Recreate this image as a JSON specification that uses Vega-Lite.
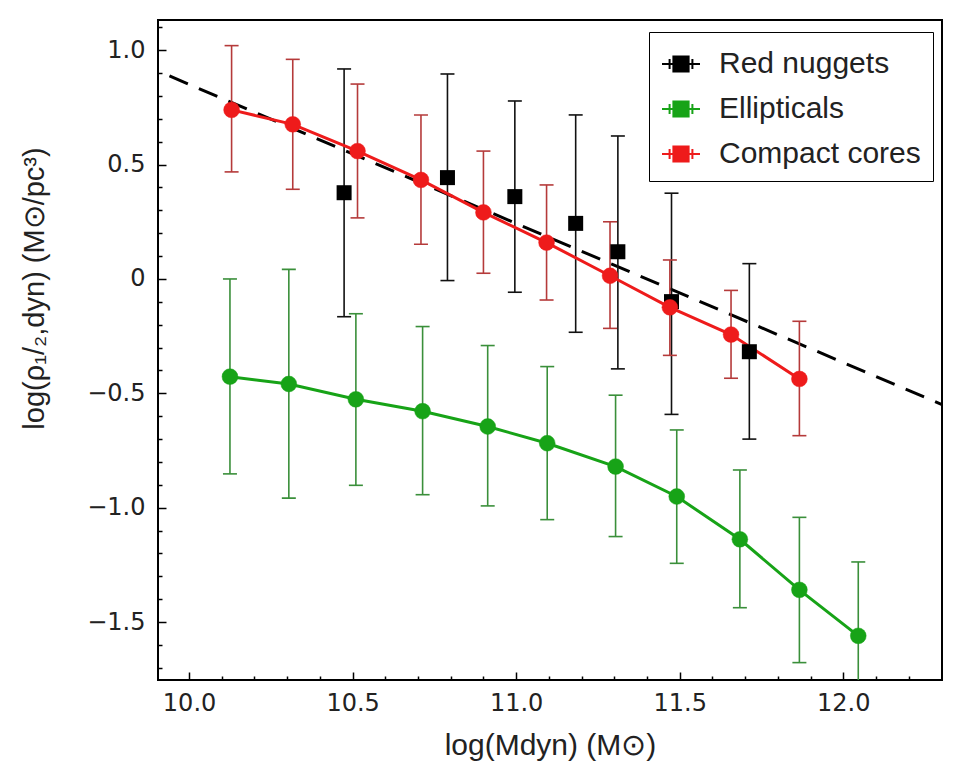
{
  "$schema": "https://vega.github.io/schema/vega-lite/v6.json",
  "width": 784,
  "height": 660,
  "autosize": {"type": "none"},
  "padding": {"left": 158, "top": 20, "right": 28, "bottom": 86},
  "background": "white",
  "config": {
    "view": {"stroke": "black", "strokeWidth": 2},
    "axis": {"domain": false, "grid": false}
  },
  "resolve": {"axis": {"x": "independent", "y": "independent"}},
  "datasets": {
    "pts": [
      {"s": "Red nuggets", "x": 10.474, "y": 0.377, "lo": -0.165, "hi": 0.918},
      {"s": "Red nuggets", "x": 10.79, "y": 0.443, "lo": -0.007, "hi": 0.896},
      {"s": "Red nuggets", "x": 10.996, "y": 0.36, "lo": -0.058, "hi": 0.778},
      {"s": "Red nuggets", "x": 11.182, "y": 0.243, "lo": -0.233, "hi": 0.717},
      {"s": "Red nuggets", "x": 11.311, "y": 0.119, "lo": -0.393, "hi": 0.625},
      {"s": "Red nuggets", "x": 11.475, "y": -0.099, "lo": -0.592, "hi": 0.375},
      {"s": "Red nuggets", "x": 11.713, "y": -0.318, "lo": -0.7, "hi": 0.067},
      {"s": "Ellipticals", "x": 10.125, "y": -0.427, "lo": -0.852, "hi": 0.0},
      {"s": "Ellipticals", "x": 10.305, "y": -0.459, "lo": -0.958, "hi": 0.042},
      {"s": "Ellipticals", "x": 10.51, "y": -0.526, "lo": -0.902, "hi": -0.152},
      {"s": "Ellipticals", "x": 10.714, "y": -0.578, "lo": -0.943, "hi": -0.208},
      {"s": "Ellipticals", "x": 10.913, "y": -0.645, "lo": -0.992, "hi": -0.291},
      {"s": "Ellipticals", "x": 11.095, "y": -0.718, "lo": -1.052, "hi": -0.383},
      {"s": "Ellipticals", "x": 11.304, "y": -0.82, "lo": -1.126, "hi": -0.508},
      {"s": "Ellipticals", "x": 11.491, "y": -0.951, "lo": -1.243, "hi": -0.66},
      {"s": "Ellipticals", "x": 11.684, "y": -1.138, "lo": -1.437, "hi": -0.835},
      {"s": "Ellipticals", "x": 11.866, "y": -1.359, "lo": -1.677, "hi": -1.042},
      {"s": "Ellipticals", "x": 12.046, "y": -1.56, "lo": -1.9, "hi": -1.237},
      {"s": "Compact cores", "x": 10.13, "y": 0.739, "lo": 0.468, "hi": 1.02},
      {"s": "Compact cores", "x": 10.317, "y": 0.676, "lo": 0.392, "hi": 0.96},
      {"s": "Compact cores", "x": 10.515, "y": 0.559, "lo": 0.267, "hi": 0.852},
      {"s": "Compact cores", "x": 10.709, "y": 0.433, "lo": 0.152, "hi": 0.717},
      {"s": "Compact cores", "x": 10.9, "y": 0.291, "lo": 0.025, "hi": 0.559},
      {"s": "Compact cores", "x": 11.093, "y": 0.159, "lo": -0.092, "hi": 0.411},
      {"s": "Compact cores", "x": 11.287, "y": 0.014, "lo": -0.216, "hi": 0.25},
      {"s": "Compact cores", "x": 11.47, "y": -0.124, "lo": -0.334, "hi": 0.083},
      {"s": "Compact cores", "x": 11.657, "y": -0.243, "lo": -0.434, "hi": -0.05},
      {"s": "Compact cores", "x": 11.866, "y": -0.437, "lo": -0.685, "hi": -0.185}
    ],
    "fit": [
      {"x": 9.85, "y": 0.942},
      {"x": 12.35, "y": -0.578}
    ]
  },
  "layer": [
    {
      "data": {"name": "fit"},
      "mark": {"type": "line", "color": "black", "strokeWidth": 3, "strokeDash": [20, 12], "clip": true},
      "encoding": {
        "x": {
          "field": "x", "type": "quantitative",
          "scale": {"domain": [9.905, 12.302], "nice": false, "zero": false},
          "axis": {
            "orient": "bottom",
            "title": "log(Mdyn) (M⊙)",
            "values": [10, 10.5, 11, 11.5, 12],
            "format": ".1f",
            "tickSize": -8,
            "tickColor": "black",
            "tickWidth": 1.5,
            "labelFont": "DejaVu Sans",
            "labelFontSize": 24,
            "labelColor": "#222222",
            "labelPadding": 19,
            "labelFlush": false,
            "labelOverlap": false,
            "titleFont": "Liberation Sans",
            "titleFontSize": 30,
            "titleFontWeight": "normal",
            "titleColor": "#222222",
            "titleBaseline": "middle",
            "titleY": 65
          }
        },
        "y": {
          "field": "y", "type": "quantitative",
          "scale": {"domain": [-1.753, 1.132], "nice": false, "zero": false},
          "axis": {
            "orient": "left",
            "title": "log(ρ₁/₂,dyn) (M⊙/pc³)",
            "values": [-1.5, -1, -0.5, 0, 0.5, 1],
            "labelExpr": "abs(datum.value) < 0.001 ? '0' : format(datum.value, '.1f')",
            "tickSize": -8,
            "tickColor": "black",
            "tickWidth": 1.5,
            "labelFont": "DejaVu Sans",
            "labelFontSize": 24,
            "labelColor": "#222222",
            "labelPadding": 21,
            "labelOverlap": false,
            "labelFlush": false,
            "titleFont": "Liberation Sans",
            "titleFontSize": 29,
            "titleFontWeight": "normal",
            "titleColor": "#222222",
            "titleAngle": -90,
            "titleAlign": "center",
            "titleBaseline": "middle",
            "titleX": -124,
            "titleY": 268
          }
        }
      }
    },
    {
      "data": {"name": "pts"},
      "mark": {"type": "rule", "strokeWidth": 1.6, "clip": true},
      "encoding": {
        "x": {
          "field": "x", "type": "quantitative",
          "scale": {"domain": [9.905, 12.302], "nice": false, "zero": false},
          "axis": {
            "orient": "bottom",
            "title": null,
            "labels": false,
            "values": [10.1, 10.2, 10.3, 10.4, 10.6, 10.7, 10.8, 10.9, 11.1, 11.2, 11.3, 11.4, 11.6, 11.7, 11.8, 11.9, 12.1, 12.2],
            "tickSize": -4,
            "tickColor": "black",
            "tickWidth": 1.5
          }
        },
        "y": {
          "field": "lo", "type": "quantitative",
          "scale": {"domain": [-1.753, 1.132], "nice": false, "zero": false},
          "axis": {
            "orient": "left",
            "title": null,
            "labels": false,
            "values": [-1.7, -1.6, -1.4, -1.3, -1.2, -1.1, -0.9, -0.8, -0.7, -0.6, -0.4, -0.3, -0.2, -0.1, 0.1, 0.2, 0.3, 0.4, 0.6, 0.7, 0.8, 0.9, 1.1],
            "tickSize": -4,
            "tickColor": "black",
            "tickWidth": 1.5
          }
        },
        "y2": {"field": "hi"},
        "color": {"field": "s", "type": "nominal", "scale": {"domain": ["Compact cores", "Ellipticals", "Red nuggets"], "range": ["#b53a3a", "#3a8f3a", "#111111"]}, "legend": null}
      }
    },
    {
      "data": {"name": "pts"},
      "mark": {"type": "tick", "orient": "horizontal", "size": 14, "thickness": 1.6, "clip": true, "opacity": 1},
      "encoding": {
        "x": {"field": "x", "type": "quantitative", "scale": {"domain": [9.905, 12.302], "nice": false, "zero": false}, "axis": null},
        "y": {"field": "lo", "type": "quantitative", "scale": {"domain": [-1.753, 1.132], "nice": false, "zero": false}, "axis": null},
        "color": {"field": "s", "type": "nominal", "scale": {"domain": ["Compact cores", "Ellipticals", "Red nuggets"], "range": ["#b53a3a", "#3a8f3a", "#111111"]}, "legend": null}
      }
    },
    {
      "data": {"name": "pts"},
      "mark": {"type": "tick", "orient": "horizontal", "size": 14, "thickness": 1.6, "clip": true, "opacity": 1},
      "encoding": {
        "x": {"field": "x", "type": "quantitative", "scale": {"domain": [9.905, 12.302], "nice": false, "zero": false}, "axis": null},
        "y": {"field": "hi", "type": "quantitative", "scale": {"domain": [-1.753, 1.132], "nice": false, "zero": false}, "axis": null},
        "color": {"field": "s", "type": "nominal", "scale": {"domain": ["Compact cores", "Ellipticals", "Red nuggets"], "range": ["#b53a3a", "#3a8f3a", "#111111"]}, "legend": null}
      }
    },
    {
      "data": {"name": "pts"},
      "transform": [{"filter": "datum.s != 'Red nuggets'"}],
      "mark": {"type": "line", "strokeWidth": 3, "clip": true},
      "encoding": {
        "x": {"field": "x", "type": "quantitative", "scale": {"domain": [9.905, 12.302], "nice": false, "zero": false}, "axis": null},
        "y": {"field": "y", "type": "quantitative", "scale": {"domain": [-1.753, 1.132], "nice": false, "zero": false}, "axis": null},
        "stroke": {"field": "s", "type": "nominal", "scale": {"domain": ["Red nuggets", "Ellipticals", "Compact cores"], "range": ["#000000", "#17a317", "#ee1b1b"]}}
      }
    },
    {
      "data": {"name": "pts"},
      "transform": [{"filter": "datum.s == 'Red nuggets'"}],
      "mark": {"type": "point", "shape": "square", "filled": true, "size": 225, "opacity": 1, "clip": true},
      "encoding": {
        "x": {"field": "x", "type": "quantitative", "scale": {"domain": [9.905, 12.302], "nice": false, "zero": false}, "axis": null},
        "y": {"field": "y", "type": "quantitative", "scale": {"domain": [-1.753, 1.132], "nice": false, "zero": false}, "axis": null},
        "fill": {"field": "s", "type": "nominal", "scale": {"domain": ["Red nuggets", "Ellipticals", "Compact cores"], "range": ["#000000", "#17a317", "#ee1b1b"]}}
      }
    },
    {
      "data": {"name": "pts"},
      "transform": [{"filter": "datum.s != 'Red nuggets'"}],
      "mark": {"type": "point", "shape": "circle", "filled": true, "size": 250, "opacity": 1, "strokeWidth": 0.5, "clip": true},
      "encoding": {
        "x": {"field": "x", "type": "quantitative", "scale": {"domain": [9.905, 12.302], "nice": false, "zero": false}, "axis": null},
        "y": {"field": "y", "type": "quantitative", "scale": {"domain": [-1.753, 1.132], "nice": false, "zero": false}, "axis": null},
        "fill": {
          "field": "s", "type": "nominal",
          "scale": {"domain": ["Red nuggets", "Ellipticals", "Compact cores"], "range": ["#000000", "#17a317", "#ee1b1b"]},
          "legend": {
            "title": null,
            "orient": "none",
            "legendX": 491,
            "legendY": 12,
            "padding": 12,
            "strokeColor": "black",
            "fillColor": "white",
            "symbolType": "M-1,0H1M-0.6,-0.26V0.26M0.6,-0.26V0.26M-0.4,-0.4H0.4V0.4H-0.4Z",
            "symbolSize": 1444,
            "symbolStrokeWidth": 2,
            "labelFont": "Liberation Sans",
            "labelFontSize": 30,
            "labelColor": "#222222",
            "labelOffset": 18,
            "labelLimit": 400,
            "rowPadding": 10
          }
        },
        "stroke": {
          "field": "s", "type": "nominal",
          "scale": {"domain": ["Red nuggets", "Ellipticals", "Compact cores"], "range": ["#000000", "#17a317", "#ee1b1b"]},
          "legend": {
            "title": null,
            "orient": "none",
            "legendX": 491,
            "legendY": 12,
            "padding": 12,
            "strokeColor": "black",
            "fillColor": "white",
            "symbolType": "M-1,0H1M-0.6,-0.26V0.26M0.6,-0.26V0.26M-0.4,-0.4H0.4V0.4H-0.4Z",
            "symbolSize": 1444,
            "symbolStrokeWidth": 2,
            "labelFont": "Liberation Sans",
            "labelFontSize": 30,
            "labelColor": "#222222",
            "labelOffset": 18,
            "labelLimit": 400,
            "rowPadding": 10
          }
        }
      }
    }
  ]
}
